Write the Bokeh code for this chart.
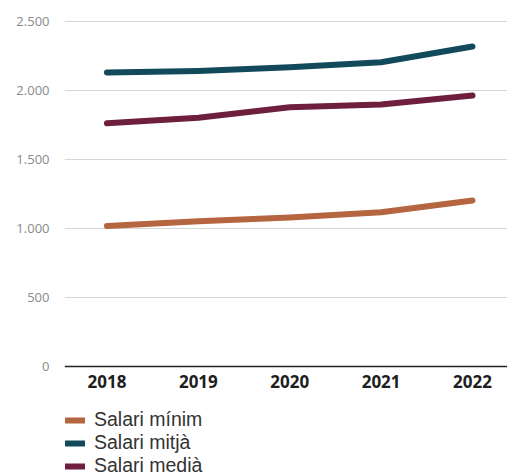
from bokeh.plotting import figure
from bokeh.models import FixedTicker, Legend, LegendItem, Range1d
from bokeh.embed import file_html
from bokeh.resources import INLINE

years = [2018, 2019, 2020, 2021, 2022]
salari_minim = [1019, 1053, 1080, 1118, 1203]
salari_mitja = [2130, 2142, 2168, 2205, 2319]
salari_media = [1763, 1802, 1879, 1899, 1964]
y_ticks = [0, 500, 1000, 1500, 2000, 2500]
y_tick_labels = ["0", "500", "1.000", "1.500", "2.000", "2.500"]
series_names = ["Salari mínim", "Salari mitjà", "Salari medià"]
series_colors = ["#b5653f", "#134a5b", "#6d1f3d"]

FONT = "Open Sans"
LEGEND_FONT = "Liberation Sans"

p = figure(
    frame_width=443, frame_height=457,
    x_range=Range1d(2017.535, 2022.383),
    y_range=Range1d(-768, 2543.5),
    output_backend="svg", toolbar_location=None,
    min_border_left=64, min_border_top=15, min_border_right=0,
    min_border_bottom=0,
    background_fill_color=None, border_fill_color="white",
    outline_line_color=None,
)

renderers = []
for vals, col in zip([salari_minim, salari_mitja, salari_media], series_colors):
    r = p.line(years, vals, line_color=col, line_width=6,
               line_cap="round", line_join="round")
    renderers.append(r)

# x axis drawn at y = 0 inside the frame
p.xaxis.fixed_location = 0
p.xaxis.ticker = FixedTicker(ticks=years)
p.xaxis.major_tick_line_color = None
p.xaxis.major_tick_out = 0
p.xaxis.minor_tick_line_color = None
p.xaxis.axis_line_color = "#222222"
p.xaxis.axis_line_width = 1.5
p.xaxis.major_label_text_font = FONT
p.xaxis.major_label_text_font_style = "bold"
p.xaxis.major_label_text_font_size = "17px"
p.xaxis.major_label_text_color = "#1e1e1e"
p.xaxis.major_label_standoff = 8

p.yaxis.ticker = FixedTicker(ticks=y_ticks)
p.yaxis.major_label_overrides = {t: l for t, l in zip(y_ticks, y_tick_labels)}
p.yaxis.axis_line_color = None
p.yaxis.major_tick_line_color = None
p.yaxis.major_tick_out = 0
p.yaxis.minor_tick_line_color = None
p.yaxis.major_label_text_font = FONT
p.yaxis.major_label_text_font_size = "13px"
p.yaxis.major_label_text_color = "#8a8a8a"
p.yaxis.major_label_standoff = 15

p.xgrid.grid_line_color = None
p.ygrid.ticker = FixedTicker(ticks=y_ticks[1:])
p.ygrid.grid_line_color = "#d6d6d6"
p.ygrid.grid_line_width = 1

legend = Legend(
    items=[LegendItem(label=n, renderers=[r]) for n, r in zip(series_names, renderers)],
    location=(1, -5),
    orientation="vertical",
    label_text_font=LEGEND_FONT,
    label_text_font_size="19.5px",
    label_text_color="#333333",
    label_height=20, glyph_height=20, glyph_width=20,
    label_standoff=9, spacing=0, padding=0, margin=0,
    border_line_color=None, background_fill_alpha=0,
)
p.add_layout(legend, "center")

open("out.html", "w").write(file_html(p, INLINE))
